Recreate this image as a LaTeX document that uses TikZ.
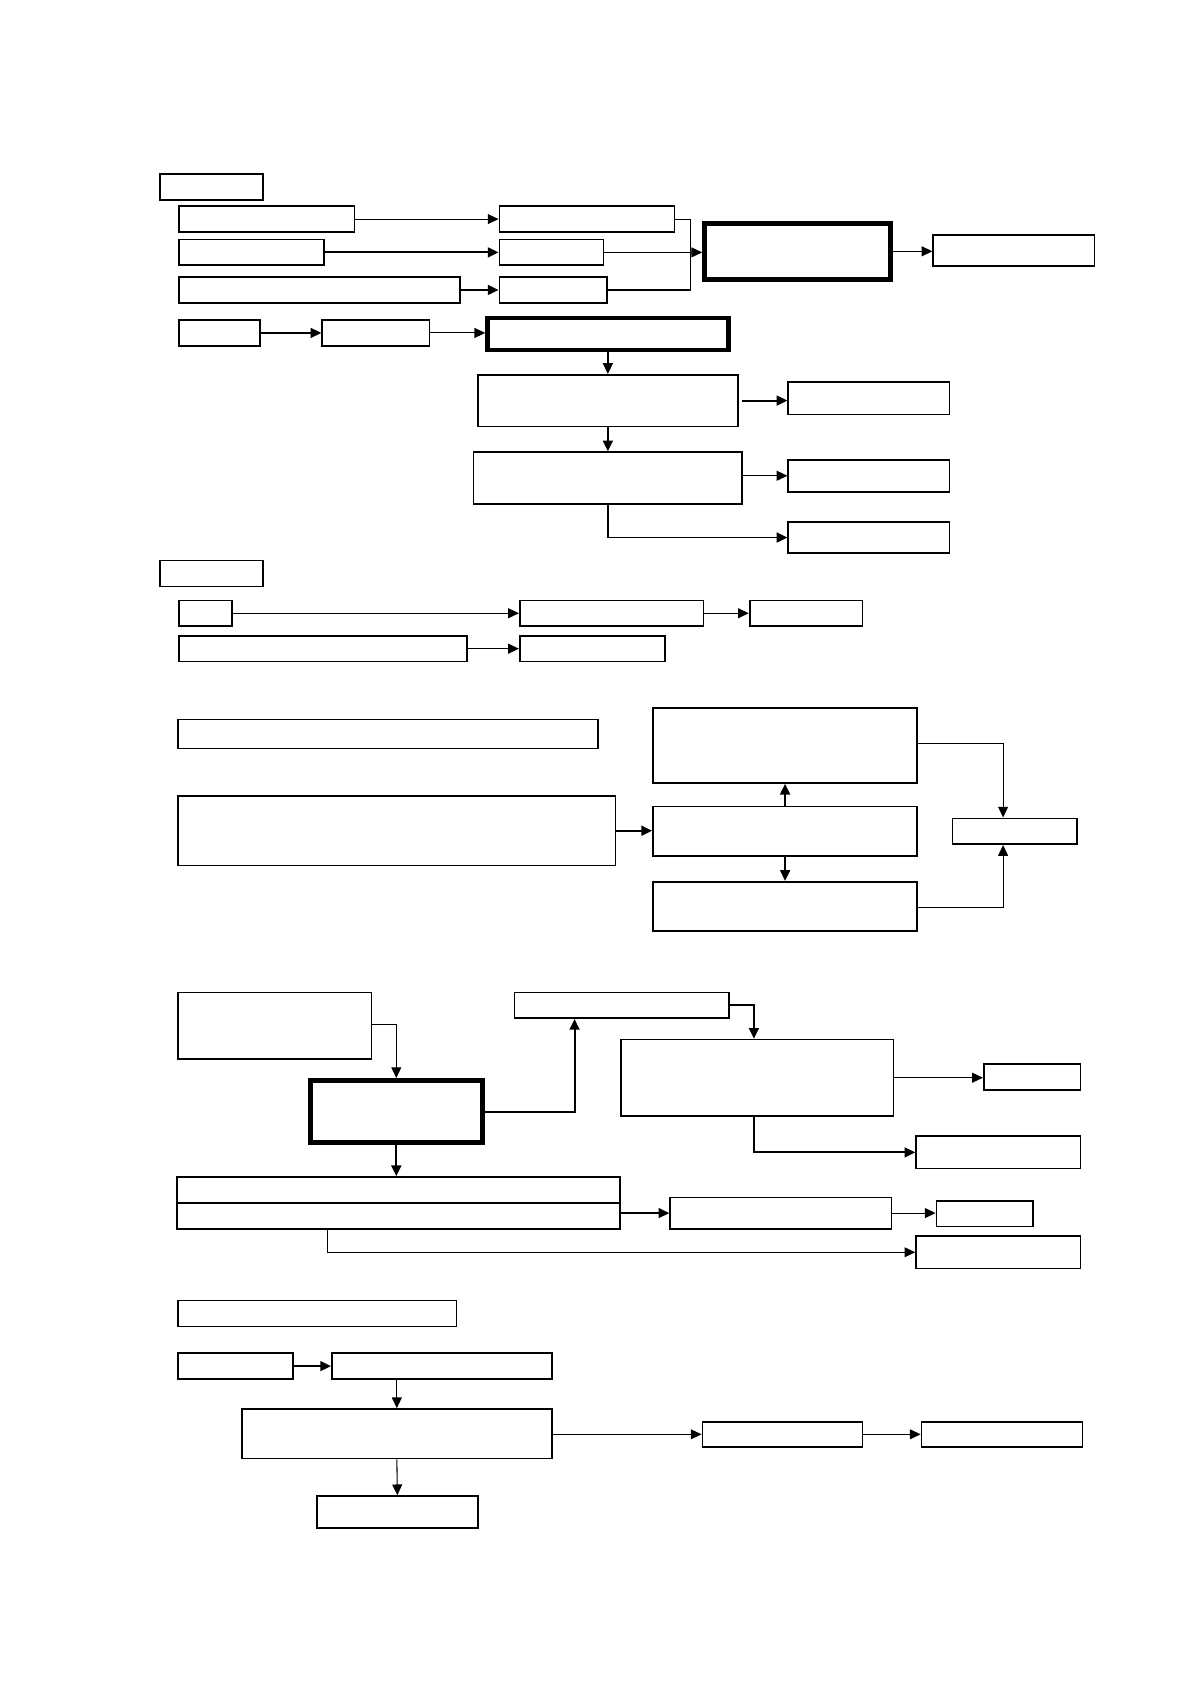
\documentclass[tikz,border=0pt]{standalone}
\usetikzlibrary{fit,arrows.meta,calc}
\tikzset{
  bx/.style={draw, line width=0.8pt, inner sep=0pt, fill=white},
  tbx/.style={draw, line width=2.2pt, inner sep=0pt, fill=white},
  ln/.style={line width=0.5pt},
  lnt/.style={line width=0.9pt},
  arr/.style={line width=0.5pt, -{Triangle[length=5pt,width=4.6pt]}},
  arrt/.style={line width=0.9pt, -{Triangle[length=5pt,width=4.6pt]}}
}
\newcommand{\bxn}[5]{\node[bx, fit={(#2,#3) (#4,#5)}] (#1) {};}
\newcommand{\tbxn}[5]{\node[tbx, fit={(#2,#3) (#4,#5)}] (#1) {};}
\begin{document}
\begin{tikzpicture}[x=0.5pt, y=-0.5pt]
\fill[white] (0,0) rectangle (1108,1568);
\path[use as bounding box] (0,0) rectangle (1108,1568);
% ---------- section 1
\bxn{h1}{149}{162}{245}{186}
\bxn{ra}{167}{192}{330}{216}
\bxn{rb}{465}{192}{628}{216}
\bxn{sa}{167}{223}{302}{247}
\bxn{sb}{465}{223}{562}{247}
\bxn{ta}{167}{258}{428}{282}
\bxn{tb}{465}{258}{565}{282}
\tbxn{B}{656}{208}{829}{260}
\bxn{Bo}{869}{219}{1019}{248}
\coordinate (brk) at (643,235);
\draw[arr] (ra.east) -- (ra.east -| rb.west);
\draw[arrt] (sa.east) -- (sa.east -| sb.west);
\draw[arrt] (ta.east) -- (ta.east -| tb.west);
\draw[ln] (rb.east) -| (brk);
\draw[ln] (tb.east) -| (brk);
\draw[arr] (sb.east) -- (sb.east -| B.west);
\draw[arr] (B.east) -- (B.east -| Bo.west);
\bxn{ua}{167}{298}{242}{322}
\bxn{ub}{300}{298}{400}{322}
\tbxn{T}{454}{296}{678}{326}
\draw[arrt] (ua.east) -- (ub.west);
\draw[arr] (ub.east) -- (ub.east -| T.west);
\bxn{C1}{445}{349}{687}{397}
\bxn{D1}{734}{356}{884}{386}
\bxn{C2}{441}{421}{691}{469}
\bxn{D2}{734}{428}{884}{458}
\bxn{D3}{734}{486}{884}{515}
\draw[arrt] (T.south) -- (C1.north);
\draw[arrt] ($(C1.east)+(3,0)$) -- (C1.east -| D1.west);
\draw[arrt] (C1.south) -- (C2.north);
\draw[arr] (D2.west -| C2.east) -- (D2.west);
\draw[arrt] (C2.south) |- (D3.west);
% ---------- section 2
\bxn{h2}{149}{522}{245}{546}
\bxn{va}{167}{559}{216}{583}
\bxn{vb}{484}{559}{655}{583}
\bxn{vc}{698}{559}{803}{583}
\bxn{wa}{167}{592}{435}{616}
\bxn{wb}{484}{592}{619}{616}
\draw[arr] (va.east) -- (vb.west);
\draw[arr] (vb.east) -- (vc.west);
\draw[arr] (wa.east) -- (wb.west);
% ---------- section 3
\bxn{k1}{166}{670}{557}{697}
\bxn{k2}{166}{741}{573}{806}
\bxn{Mt}{608}{659}{854}{729}
\bxn{Mm}{608}{751}{854}{797}
\bxn{Mb}{608}{821}{854}{867}
\bxn{R}{887}{762}{1003}{786}
\draw[arrt] (k2.east) -- (k2.east -| Mm.west);
\draw[arrt] (Mm.north) -- (Mt.south);
\draw[arrt] (Mm.south) -- (Mb.north);
\draw[arr] ($(Mt.east)+(0,-2)$) -| ($(R.north)+(-11,0)$);
\draw[arr] ($(Mb.east)+(0,1)$) -| ($(R.south)+(-11,0)$);
% ---------- section 4
\bxn{L4}{166}{924}{346}{986}
\tbxn{Th}{289}{1006}{449}{1064}
\bxn{U}{479}{924}{679}{948}
\bxn{V}{578}{968}{832}{1039}
\bxn{W}{916}{991}{1006}{1015}
\bxn{X}{853}{1058}{1006}{1088}
\bxn{Y1}{165}{1096}{577}{1120}
\bxn{Y2}{165}{1120}{577}{1144}
\bxn{Z1}{624}{1115}{830}{1144}
\bxn{Z2}{872}{1118}{962}{1142}
\bxn{Q}{853}{1151}{1006}{1181}
\draw[arr] ($(L4.east)+(0,-1)$) -| (Th.north);
\draw[arrt] (Th.east) -| ($(U.south)+(-44,0)$);
\draw[arrt] (U.east) -| ($(V.north)+(-3,0)$);
\draw[arr] (V.east) -- (V.east -| W.west);
\draw[arrt] ($(V.south)+(-3,0)$) |- (X.west);
\draw[arrt] (Th.south) -- (Th.south |- Y1.north);
\draw[arrt] (Z1.west -| Y2.east) -- (Z1.west);
\draw[arr] (Z1.east) -- (Z1.east -| Z2.west);
\draw[arr] ($(Y2.south west)+(141,0)$) |- (Q.west);
% ---------- section 5
\bxn{P1}{166}{1211}{425}{1235}
\bxn{P2}{166}{1260}{273}{1284}
\bxn{P3}{309}{1260}{514}{1284}
\bxn{P4}{225}{1312}{514}{1358}
\bxn{P5}{295}{1393}{445}{1423}
\bxn{P6}{654}{1324}{803}{1347}
\bxn{P7}{858}{1324}{1008}{1347}
\draw[arrt] (P2.east) -- (P3.west);
\draw[arr] (P4.north |- P3.south) -- (P4.north);
\draw[arr] (P4.south) -- (P5.north);
\draw[arr] (P6.west -| P4.east) -- (P6.west);
\draw[arr] (P6.east) -- (P7.west);
\end{tikzpicture}
\end{document}
